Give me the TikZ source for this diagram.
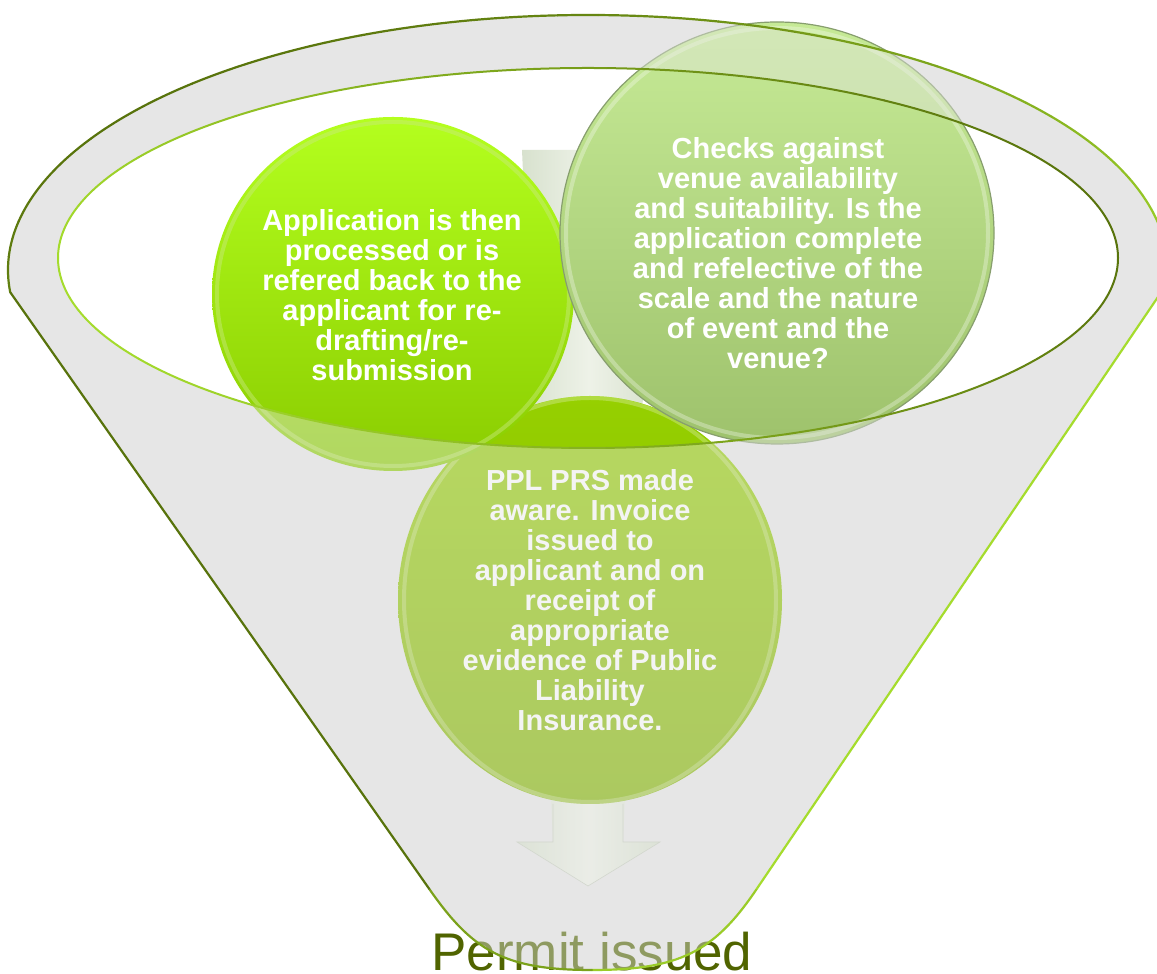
\documentclass[tikz,border=0pt]{standalone}
\usepackage{fontspec}
\setmainfont{Liberation Sans}
\usetikzlibrary{shapes.geometric}
\definecolor{olivedark}{RGB}{88,115,12}
\definecolor{olivelime}{RGB}{165,220,45}
\definecolor{funnelgray}{RGB}{230,230,230}
\definecolor{leftTop}{RGB}{180,255,30}
\definecolor{leftBot}{RGB}{138,204,0}
\definecolor{rightTop}{RGB}{198,234,150}
\definecolor{rightBot}{RGB}{158,194,108}
\definecolor{rightEdge}{RGB}{135,158,110}
\definecolor{botTop}{RGB}{150,208,0}
\definecolor{botBot}{RGB}{130,180,0}
\definecolor{arrowA}{RGB}{214,224,204}
\definecolor{arrowB}{RGB}{238,242,232}
\definecolor{permitgreen}{RGB}{80,100,0}
\tikzset{
  bubble/.style={ellipse, inner sep=0pt, draw=none},
  bubbletext/.style={text=white, align=center, font=\bfseries\fontsize{29pt}{30pt}\selectfont, inner sep=0pt},
  rimline/.style={line width=2.2pt, line cap=round},
}
\def\funnelpath{(588,704) ++(185:580pt and 255pt) arc[start angle=185,end angle=-3,x radius=580pt,y radius=255pt] -- (756,84) .. controls (714,22) and (679,4) .. (592,4) .. controls (505,4) and (473,22.6) .. (430,84) -- cycle}
\begin{document}
\begin{tikzpicture}[x=1pt,y=1pt]
\useasboundingbox (0,0) rectangle (1157,974);
\fill[white] (0,0) rectangle (1157,974);
% funnel body
\fill[funnelgray] \funnelpath;
% opening
\fill[white] (588,716) ellipse[x radius=530pt, y radius=190pt];
% arrow
\shade[left color=arrowA, right color=arrowA, middle color=arrowB]
  (522,824) -- (654,824) -- (623,132) -- (660,132) -- (588,88) -- (517,132) -- (553,132) -- cycle;
\draw[arrowA!80!gray, line width=0.6pt] (553,170) -- (553,132) -- (517,132) -- (588,88) -- (660,132) -- (623,132) -- (623,170);
% bottom circle
\node[bubble, minimum width=384pt, minimum height=408pt, top color=botTop, bottom color=botBot] (c3) at (590,374) {};
\draw[white, opacity=0.25, line width=4pt] (590,374) ellipse[x radius=186pt, y radius=202pt];
\node[bubbletext] (t3) at (590,374) {PPL PRS made\\aware. Invoice\\issued to\\applicant and on\\receipt of\\appropriate\\evidence of Public\\Liability\\Insurance.};
% left circle
\node[bubble, minimum width=362pt, minimum height=354pt, top color=leftTop, bottom color=leftBot] (c1) at (393,680) {};
\draw[olivelime!60!white, opacity=0.45, line width=4pt] (393,680) ellipse[x radius=176pt, y radius=172pt];
\node[bubbletext] (t1) at (392,679) {Application is then\\processed or is\\refered back to the\\applicant for re-\\drafting/re-\\submission};
% right circle
\node[bubble, minimum width=434pt, minimum height=422pt, top color=rightTop, bottom color=rightBot, draw=rightEdge, line width=1.2pt] (c2) at (777,741) {};
\draw[white, opacity=0.3, line width=4pt] (777,741) ellipse[x radius=211pt, y radius=205pt];
\node[bubbletext] (t2) at (778,721) {Checks against\\venue availability\\and suitability. Is the\\application complete\\and refelective of the\\scale and the nature\\of event and the\\venue?};
% result text
\node[anchor=base, inner sep=0pt, text=permitgreen, font=\fontsize{53pt}{60pt}\selectfont] (res) at (592,3) {Permit issued};
% translucent front of funnel
\fill[funnelgray, fill opacity=0.42, even odd rule] \funnelpath (588,716) ellipse[x radius=530pt, y radius=190pt];
% outlines
\foreach \a in {-3,1,...,181} {
  \pgfmathsetmacro\t{max(0,min(100,50+50*cos(\a+40)))}
  \draw[rimline, olivelime!\t!olivedark] (588,704) ++(\a:580pt and 255pt) arc[start angle=\a, end angle=\a+4, x radius=580pt, y radius=255pt];
}
\draw[rimline, olivedark] (10.2,681.8) -- (430,84);
\draw[rimline, olivelime] (1167.2,690.65) -- (756,84);
\draw[rimline, olivelime!85!olivedark] (756,84) .. controls (714,22) and (679,4) .. (592,4);
\draw[rimline, olivelime!45!olivedark] (592,4) .. controls (505,4) and (473,22.6) .. (430,84);
\foreach \a in {0,4,...,356} {
  \pgfmathsetmacro\t{50+50*cos(\a-190)}
  \draw[rimline, line width=2pt, olivelime!\t!olivedark] (588,716) ++(\a:530pt and 190pt) arc[start angle=\a, end angle=\a+4, x radius=530pt, y radius=190pt];
}
\end{tikzpicture}
\end{document}
